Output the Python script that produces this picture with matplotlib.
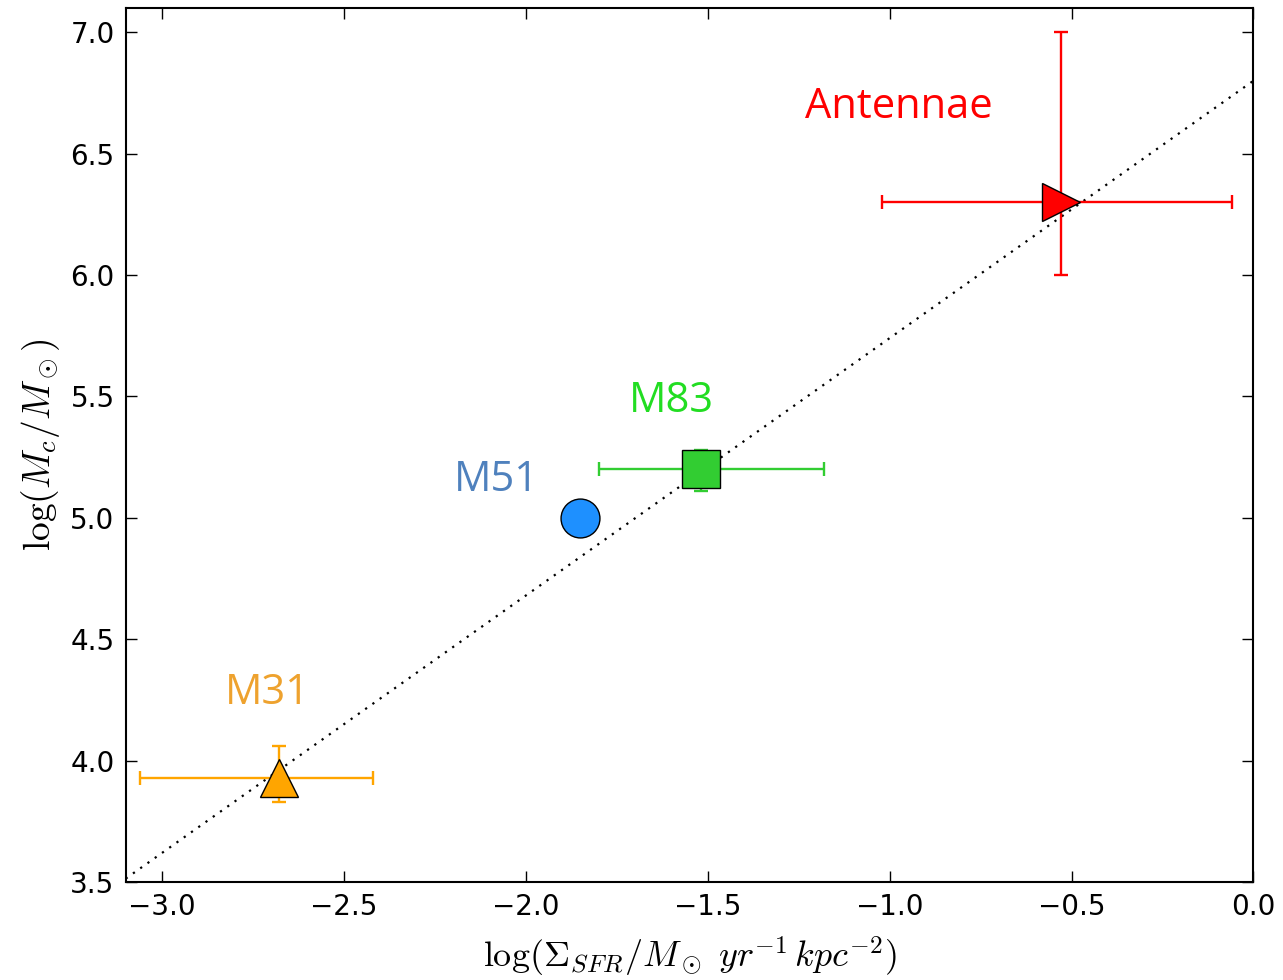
import matplotlib
matplotlib.use("Agg")
import matplotlib.pyplot as plt
import numpy as np

plt.rcParams['mathtext.fontset'] = 'cm'
plt.rcParams['font.family'] = 'DejaVu Sans'

# galaxies: log Sigma_SFR, log M_c, errors (lower, upper)
names = ["M31", "M51", "M83", "Antennae"]
x_vals = [-2.68, -1.85, -1.52, -0.53]
y_vals = [3.93, 5.00, 5.20, 6.30]
x_err_lo = [0.38, 0.0, 0.28, 0.49]
x_err_hi = [0.26, 0.0, 0.34, 0.47]
y_err_lo = [0.10, 0.0, 0.09, 0.30]
y_err_hi = [0.13, 0.0, 0.08, 0.70]
markers = ["^", "o", "s", ">"]
colors = ["orange", "dodgerblue", "limegreen", "red"]
has_err = [True, False, True, True]

# label positions and colours
label_x = [-2.71, -2.08, -1.60, -0.975]
label_y = [4.28, 5.155, 5.48, 6.69]
label_colors = ["#EEA22E", "#4F81BD", "#22DD22", "red"]

# fit line
fit_slope = 1.06
fit_icept = 6.80
xlim = (-3.1, 0.0)
ylim = (3.5, 7.1)

fig, ax = plt.subplots(figsize=(12.83, 9.8), dpi=100)
fig.subplots_adjust(left=0.098, right=0.977, top=0.992, bottom=0.1)

xl = np.array(xlim)
ax.plot(xl, fit_slope * xl + fit_icept, color='k', linestyle=(0, (1, 3)),
        linewidth=1.6, zorder=1)

for i in range(len(names)):
    if has_err[i]:
        ax.errorbar(x_vals[i], y_vals[i],
                    xerr=[[x_err_lo[i]], [x_err_hi[i]]],
                    yerr=[[y_err_lo[i]], [y_err_hi[i]]],
                    fmt='none', ecolor=colors[i], elinewidth=1.7,
                    capsize=5, capthick=1.7, zorder=2)
    ax.plot(x_vals[i], y_vals[i], marker=markers[i], color=colors[i],
            markersize=28, markeredgecolor='k', markeredgewidth=1.0,
            linestyle='none', zorder=3)
    ax.text(label_x[i], label_y[i], names[i], color=label_colors[i],
            fontsize=30, family='Open Sans', ha='center', va='center')

ax.set_xlim(xlim)
ax.set_ylim(ylim)
ax.set_xticks(np.arange(-3.0, 0.01, 0.5))
ax.set_yticks(np.arange(3.5, 7.01, 0.5))
ax.tick_params(direction='in', top=True, right=True, length=8, width=1,
               labelsize=20, pad=8)
for s in ax.spines.values():
    s.set_linewidth(1.5)

ax.set_xlabel(r'$\log(\Sigma_{SFR}/M_\odot\ yr^{-1}\,kpc^{-2})$', fontsize=26,
              labelpad=10)
ax.set_ylabel(r'$\log(M_c/M_\odot)$', fontsize=27, labelpad=6)

fig.savefig('out.png', dpi=100)
